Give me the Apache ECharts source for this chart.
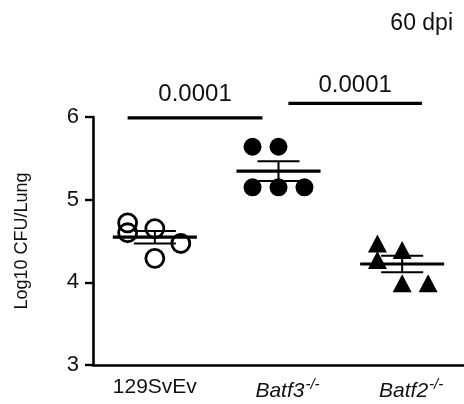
<!DOCTYPE html>
<html>
<head>
<meta charset="utf-8">
<script src="https://cdn.jsdelivr.net/npm/echarts@6/dist/echarts.min.js"></script>
<style>html,body{margin:0;padding:0;background:#fff}#c{width:464px;height:404px}</style>
</head>
<body>
<div id="c"></div>
<script>
// ---- data ----
const categories = ['129SvEv', 'Batf3', 'Batf2'];
const wtValues = [4.72, 4.60, 4.65, 4.47, 4.29];
const batf3Values = [5.64, 5.64, 5.15, 5.15, 5.15];
const batf2Values = [4.47, 4.27, 4.39, 3.99, 3.99];
const wtJitter = [-0.22, -0.22, 0.0, 0.21, 0.0];
const batf3Jitter = [-0.21, 0.0, -0.21, 0.0, 0.21];
const batf2Jitter = [-0.2, -0.2, 0.0, 0.0, 0.21];
const yTicks = { min: 3, max: 6, interval: 1 };
const pValues = ['0.0001', '0.0001'];
// [from x, to x, bar y, label y] in data units
const comparisons = [[-0.22, 0.87, 5.99, 6.27], [1.08, 2.16, 6.165, 6.385]];

const groups = [wtValues, batf3Values, batf2Values];
const jitters = [wtJitter, batf3Jitter, batf2Jitter];
const symbols = ['circle', 'circle', 'triangle'];
const INK = '#000';
const TXT = '#111';

function stats(arr) {
  const n = arr.length;
  const m = arr.reduce((a, b) => a + b, 0) / n;
  const v = arr.reduce((a, b) => a + (b - m) * (b - m), 0) / (n - 1);
  return [m, Math.sqrt(v) / Math.sqrt(n)];
}

const scatterSeries = groups.map((vals, gi) => ({
  type: 'scatter',
  xAxisIndex: 1,
  z: 2,
  symbol: symbols[gi],
  symbolSize: gi === 2 ? [19, 18] : 18,
  itemStyle: gi === 0
    ? { color: 'rgba(0,0,0,0)', borderColor: INK, borderWidth: 2.8, opacity: 1 }
    : { color: INK, opacity: 1 },
  data: vals.map((v, i) => [gi + jitters[gi][i], v]),
  silent: true
}));

const meanData = groups.map((vals, gi) => { const s = stats(vals); return [gi, s[0], s[1]]; });

const meanSeries = {
  type: 'custom',
  xAxisIndex: 1,
  z: 5,
  silent: true,
  clip: false,
  data: meanData,
  renderItem: function (params, api) {
    const x = api.value(0), m = api.value(1), s = api.value(2);
    const a = api.coord([x - 0.34, m]), b = api.coord([x + 0.34, m]);
    const c1 = api.coord([x - 0.17, m + s]), c2 = api.coord([x + 0.17, m + s]);
    const d1 = api.coord([x - 0.17, m - s]), d2 = api.coord([x + 0.17, m - s]);
    const t = api.coord([x, m + s]), u = api.coord([x, m - s]);
    const st = { stroke: INK, lineWidth: 2 };
    return {
      type: 'group',
      children: [
        { type: 'line', shape: { x1: a[0], y1: a[1], x2: b[0], y2: b[1] }, style: { stroke: INK, lineWidth: 3.2 } },
        { type: 'line', shape: { x1: c1[0], y1: c1[1], x2: c2[0], y2: c2[1] }, style: st },
        { type: 'line', shape: { x1: d1[0], y1: d1[1], x2: d2[0], y2: d2[1] }, style: st },
        { type: 'line', shape: { x1: t[0], y1: t[1], x2: u[0], y2: u[1] }, style: st }
      ]
    };
  }
};

const sigSeries = {
  type: 'custom',
  xAxisIndex: 1,
  z: 5,
  silent: true,
  clip: false,
  data: comparisons.map((c, i) => [c[0], c[1], c[2], c[3], i]),
  renderItem: function (params, api) {
    const x1 = api.value(0), x2 = api.value(1), y = api.value(2), ly = api.value(3), i = api.value(4);
    const p1 = api.coord([x1, y]), p2 = api.coord([x2, y]);
    const lp = api.coord([(x1 + x2) / 2, ly]);
    return {
      type: 'group',
      children: [
        { type: 'line', shape: { x1: p1[0], y1: p1[1], x2: p2[0], y2: p2[1] }, style: { stroke: INK, lineWidth: 3.2 } },
        { type: 'text', style: { text: pValues[i], x: lp[0], y: lp[1], textAlign: 'center', textVerticalAlign: 'middle', fontSize: 24, fontFamily: 'Liberation Sans', fill: TXT } }
      ]
    };
  }
};

const chart = echarts.init(document.getElementById('c'), null, { renderer: 'canvas' });
chart.setOption({
  animation: false,
  backgroundColor: '#fff',
  title: {
    text: '60 dpi',
    right: 6,
    top: 7,
    textStyle: { fontSize: 23, fontWeight: 'normal', fontFamily: 'Liberation Sans', color: TXT }
  },
  grid: { left: 93, right: 0, top: 117, bottom: 39 },
  xAxis: [
    {
      type: 'category',
      data: categories,
      axisLine: { onZero: false, lineStyle: { color: INK, width: 2.6 } },
      axisTick: { alignWithLabel: true, length: 7, lineStyle: { color: INK, width: 2.4 } },
      axisLabel: {
        interval: 0,
        margin: 12,
        color: TXT,
        fontSize: 21,
        fontFamily: 'Liberation Sans',
        formatter: function (v, i) {
          if (i === 0) return '{n|' + v + '}';
          return '{p|}{i|' + v + '}{s|-/-}';
        },
        rich: {
          n: { fontSize: 21, fontFamily: 'Liberation Sans', color: TXT },
          p: { width: 18 },
          i: { fontSize: 21, fontFamily: 'Liberation Sans', fontStyle: 'italic', color: TXT },
          s: { fontSize: 15, fontFamily: 'Liberation Sans', fontStyle: 'italic', color: TXT, verticalAlign: 'top', padding: [0, 0, 14, 1] }
        }
      },
      splitLine: { show: false }
    },
    {
      type: 'value',
      show: false,
      min: -0.5,
      max: 2.5
    }
  ],
  yAxis: {
    type: 'value',
    min: yTicks.min,
    max: yTicks.max,
    interval: yTicks.interval,
    name: 'Log10 CFU/Lung',
    nameLocation: 'middle',
    nameGap: 62,
    nameTextStyle: { fontSize: 18, fontFamily: 'Liberation Sans', color: TXT },
    axisLine: { show: true, onZero: false, lineStyle: { color: INK, width: 2.6 } },
    axisTick: { show: true, length: 8, lineStyle: { color: INK, width: 2.4 } },
    axisLabel: { margin: 14, fontSize: 22, fontFamily: 'Liberation Sans', color: TXT },
    splitLine: { show: false }
  },
  series: scatterSeries.concat([meanSeries, sigSeries])
});
</script>
</body>
</html>
